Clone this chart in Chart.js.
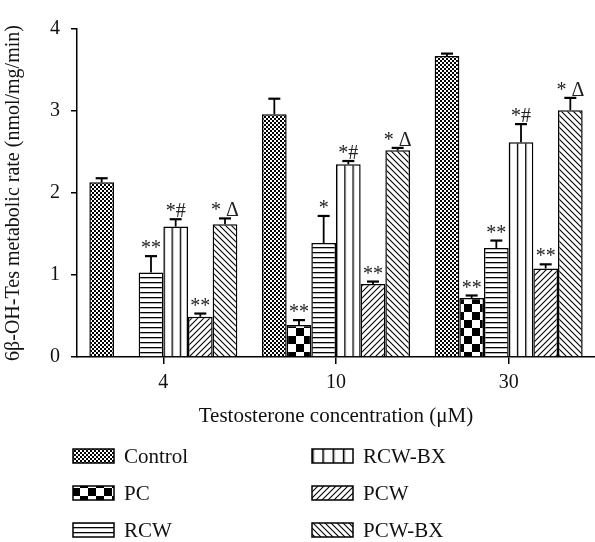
<!DOCTYPE html>
<html>
<head>
<meta charset="utf-8">
<script src="https://cdn.jsdelivr.net/npm/chart.js@4/dist/chart.umd.min.js"></script>
<style>
  body { margin: 0; background: #fff; }
</style>
</head>
<body>
<canvas id="barChart" width="595" height="542"></canvas>
<script>
// Testosterone concentrations (uM)
let concentrations = ["4", "10", "30"];

// 6b-OH-Tes metabolic rate (nmol/mg/min), one array per group
let control = [2.13, 2.96, 3.67];
let pc      = [null, 0.39, 0.72];
let rcw     = [1.03, 1.39, 1.33];
let rcwBx   = [1.59, 2.35, 2.62];
let pcw     = [0.49, 0.89, 1.08];
let pcwBx   = [1.62, 2.52, 3.01];

// upper error bars (SD)
let controlErr = [0.05, 0.19, 0.03];
let pcErr      = [null, 0.06, 0.03];
let rcwErr     = [0.20, 0.33, 0.09];
let rcwBxErr   = [0.09, 0.04, 0.22];
let pcwErr     = [0.04, 0.03, 0.05];
let pcwBxErr   = [0.07, 0.03, 0.15];

// significance marks above bars
let controlMark = ["", "", ""];
let pcMark      = ["", "**", "**"];
let rcwMark     = ["**", "*", "**"];
let rcwBxMark   = ["*#", "*#", "*#"];
let pcwMark     = ["**", "**", "**"];
let pcwBxMark   = ["* \u0394", "* \u0394", "* \u0394"];

let seriesNames = ["Control", "PC", "RCW", "RCW-BX", "PCW", "PCW-BX"];

let serif = "'Liberation Serif', 'DejaVu Serif', serif";
let catPct = 6 / 7;

// pattern tiles
function tile(w, h, draw) {
    let c = document.createElement("canvas");
    c.width = w; c.height = h;
    let g = c.getContext("2d");
    g.fillStyle = "#fff";
    g.fillRect(0, 0, w, h);
    g.fillStyle = "#000";
    g.strokeStyle = "#000";
    draw(g);
    return c;
}
let tiles = {
    control: tile(4, 4, g => { g.fillRect(0, 0, 2, 2); g.fillRect(2, 2, 2, 2); }),
    pc: tile(16, 16, g => { g.fillRect(0, 0, 8, 8); g.fillRect(8, 8, 8, 8); }),
    rcw: tile(5, 5, g => { g.fillRect(0, 2, 5, 1.3); }),
    rcwBx: tile(8, 1, g => { g.fillRect(0, 0, 1.3, 1); }),
    pcw: tile(6, 6, g => {
        g.lineWidth = 1.1;
        g.beginPath();
        g.moveTo(0, 6); g.lineTo(6, 0);
        g.moveTo(-1, 1); g.lineTo(1, -1);
        g.moveTo(5, 7); g.lineTo(7, 5);
        g.stroke();
    }),
    pcwBx: tile(6, 6, g => {
        g.lineWidth = 1.1;
        g.beginPath();
        g.moveTo(0, 0); g.lineTo(6, 6);
        g.moveTo(5, -1); g.lineTo(7, 1);
        g.moveTo(-1, 5); g.lineTo(1, 7);
        g.stroke();
    })
};

let ctx = document.getElementById("barChart").getContext("2d");
function pattern(name) {
    return ctx.createPattern(tiles[name], "repeat");
}

// vertical lines of RCW-BX: three columns inside every bar
function rcwBxFill(context) {
    let chart = context.chart;
    let xs = chart.scales.x;
    if (!xs || !chart.chartArea) return "#fff";
    let bw = (xs.width / concentrations.length) * catPct / 6;
    let left = xs.getPixelForValue(0);
    let p = ctx.createPattern(tiles.rcwBx, "repeat");
    p.setTransform(new DOMMatrix().translate(left, 0).scale(bw / 3 / 8, 1));
    return p;
}

let fills = [pattern("control"), pattern("pc"), pattern("rcw"), rcwBxFill, pattern("pcw"), pattern("pcwBx")];
let values = [control, pc, rcw, rcwBx, pcw, pcwBx];
let errors = [controlErr, pcErr, rcwErr, rcwBxErr, pcwErr, pcwBxErr];
let marks = [controlMark, pcMark, rcwMark, rcwBxMark, pcwMark, pcwBxMark];

// error bars and significance marks
const errorBars = {
    id: "errorBars",
    afterDatasetsDraw(chart) {
        let c = chart.ctx;
        let ys = chart.scales.y;
        c.save();
        c.strokeStyle = "#000";
        c.fillStyle = "#222";
        c.font = "20px " + serif;
        c.textAlign = "center";
        c.textBaseline = "alphabetic";
        values.forEach((vals, i) => {
            let meta = chart.getDatasetMeta(i);
            vals.forEach((v, j) => {
                if (v == null) return;
                let el = meta.data[j];
                let top = ys.getPixelForValue(v + errors[i][j]);
                c.lineWidth = 1.8;
                c.beginPath();
                c.moveTo(el.x, el.y);
                c.lineTo(el.x, top);
                c.stroke();
                c.lineWidth = 2.2;
                c.beginPath();
                c.moveTo(el.x - 6, top);
                c.lineTo(el.x + 6, top);
                c.stroke();
                if (marks[i][j]) c.fillText(marks[i][j], el.x, top - 2);
            });
        });
        c.restore();
    }
};

// two column legend below the axis
const sideLegend = {
    id: "sideLegend",
    afterDraw(chart) {
        let c = chart.ctx;
        let names = ["control", "pc", "rcw", "rcwBx", "pcw", "pcwBx"];
        c.save();
        c.font = "21px " + serif;
        c.textBaseline = "middle";
        c.textAlign = "left";
        seriesNames.forEach((name, i) => {
            let col = Math.floor(i / 3), row = i % 3;
            let x = col === 0 ? 73 : 312;
            let y = 456 + row * 37;
            let p = ctx.createPattern(tiles[names[i]], "repeat");
            if (names[i] === "rcwBx") p.setTransform(new DOMMatrix().translate(x, 0).scale(10.3 / 8, 1));
            c.fillStyle = p;
            c.fillRect(x, y - 7, 41, 14);
            c.strokeStyle = "#000";
            c.lineWidth = 1.5;
            c.strokeRect(x, y - 7, 41, 14);
            c.fillStyle = "#111";
            c.fillText(name, x + 51, y + 1);
        });
        c.restore();
    }
};

new Chart(ctx, {
    type: "bar",
    data: {
        labels: concentrations,
        datasets: seriesNames.map((name, i) => ({
            label: name,
            data: values[i],
            backgroundColor: fills[i],
            borderColor: "#000",
            borderWidth: 1.5,
            categoryPercentage: catPct,
            barPercentage: 1
        }))
    },
    options: {
        responsive: false,
        animation: false,
        layout: {padding: {top: 29, right: 0, bottom: 110, left: 0}},
        plugins: {
            legend: {display: false},
            tooltip: {enabled: false}
        },
        scales: {
            x: {
                grid: {offset: false, drawOnChartArea: false, tickLength: 7, color: "#000", lineWidth: 1.5},
                border: {color: "#000", width: 1.5},
                ticks: {color: "#111", font: {family: serif, size: 20}, padding: 7},
                title: {
                    display: true,
                    text: "Testosterone concentration (\u03bcM)",
                    color: "#111",
                    font: {family: serif, size: 21},
                    padding: {top: 0, bottom: 3}
                },
                afterFit(scale) { scale.height = 75; }
            },
            y: {
                min: 0,
                max: 4,
                grid: {drawOnChartArea: false, tickLength: 6, color: "#000", lineWidth: 1.5},
                border: {color: "#000", width: 1.5},
                ticks: {stepSize: 1, color: "#111", font: {family: serif, size: 20}, padding: 11},
                title: {
                    display: true,
                    text: "6\u03b2-OH-Tes metabolic rate (nmol/mg/min)",
                    color: "#111",
                    font: {family: serif, size: 20},
                    padding: {top: 2, bottom: 0}
                },
                afterFit(scale) { scale.width = 77; }
            }
        }
    },
    plugins: [errorBars, sideLegend]
});
</script>
</body>
</html>
